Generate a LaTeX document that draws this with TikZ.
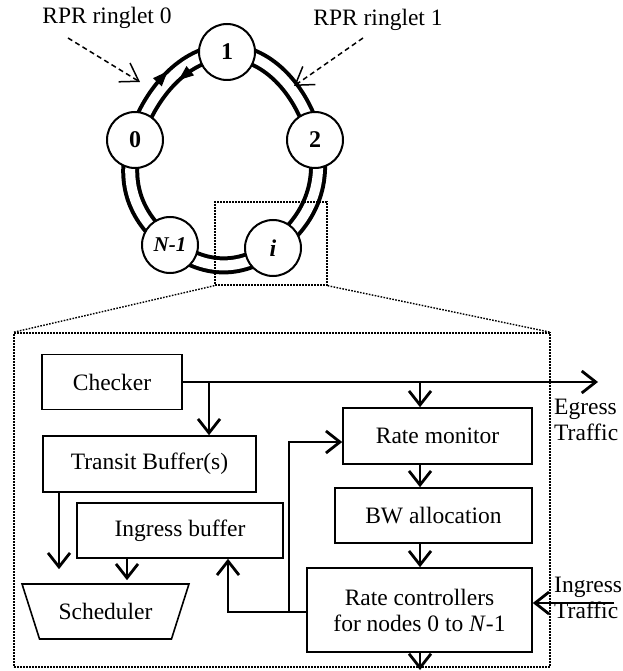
\documentclass[tikz,border=0pt]{standalone}
\usepackage{fontspec}
\setmainfont{Liberation Serif}
\usetikzlibrary{arrows.meta,shapes.geometric,decorations.markings}

\begin{document}
\begin{tikzpicture}[x=1pt,y=-1pt,
  every node/.style={font=\fontsize{23.5}{26}\selectfont},
  block/.style={draw, line width=1.6pt, inner sep=0pt, align=center},
  ringnode/.style={circle, draw, fill=white, line width=2pt, minimum size=56pt,
    inner sep=0pt, font=\fontsize{24}{26}\selectfont\bfseries},
  flow/.style={line width=2.8pt, -{Straight Barb[length=14pt,width=22pt]}},
  pointer/.style={line width=1.5pt, dash pattern=on 5pt off 3.5pt,
    -{Straight Barb[length=17pt,width=22pt,line width=1.5pt]}},
  zoomframe/.style={draw, line width=1.4pt, dash pattern=on 1.6pt off 1.4pt, inner sep=0pt},
  zoomline/.style={line width=1.4pt, dash pattern=on 1.6pt off 1.4pt},
  ringhead/.style={fill=black},
]
\useasboundingbox (0,0) rectangle (622,671);

% --- the RPR double ring (the closed curve starts at its second point, node 0) ---
\draw[line width=4pt, double=white, double distance=10pt,
  postaction={decorate},
  decoration={markings,
    mark=at position 68pt with {\fill[ringhead] (7pt,7pt) -- (-8pt,13pt) -- (-8pt,1pt) -- cycle;},
    mark=at position 84pt with {\fill[ringhead] (-7pt,-7pt) -- (8pt,-1pt) -- (8pt,-13pt) -- cycle;}}]
  plot[smooth cycle, tension=0.85] coordinates {(170,245) (135,140) (227,52) (315,140) (273,248)};

\node[ringnode] (n0) at (135,140) {0};
\node[ringnode] (n1) at (227,52) {1};
\node[ringnode] (n2) at (315,140) {2};
\node[ringnode] (ni) at (273,248) {\itshape i};
\node[ringnode] (nN) at (170,245) {\fontsize{21}{24}\selectfont\itshape N-1};

% --- ringlet labels ---
\node (lab0) at (107,18) {RPR ringlet 0};
\node (lab1) at (378,20) {RPR ringlet 1};
\coordinate (s0) at (68,38);
\coordinate (t0) at (140,82);
\coordinate (s1) at (363,38);
\coordinate (t1) at (294,86);
\draw[pointer] (s0) -- (t0);
\draw[pointer] (s1) -- (t1);

% --- zoom frames ---
\node[zoomframe, minimum width=112pt, minimum height=83pt] (zb) at (271,243.5) {};
\node[zoomframe, minimum width=536pt, minimum height=334pt] (detail) at (282,500) {};
\draw[zoomline] (zb.south west) -- (detail.north west);
\draw[zoomline] (zb.south east) -- (detail.north east);

% --- node internals ---
\node[block, minimum width=140pt, minimum height=55pt] (chk) at (112,382) {Checker};
\node[block, minimum width=213pt, minimum height=56pt] (tb) at (149.5,464) {Transit Buffer(s)};
\node[block, minimum width=206pt, minimum height=55pt] (ib) at (180,530.5) {Ingress buffer};
\node[draw, line width=1.6pt, trapezium, shape border rotate=180, trapezium stretches=true,
  trapezium angle=53, minimum width=167pt, minimum height=55pt, inner sep=0pt] (sch) at (105.5,611.5) {Scheduler};
\node[block, minimum width=189pt, minimum height=56pt] (rm) at (437.5,436) {Rate monitor};
\node[block, minimum width=197pt, minimum height=55pt] (bw) at (433.5,515.5) {BW allocation};
\node[block, minimum width=225pt, minimum height=84pt] (rc) at (419.5,610) {Rate controllers\\for nodes 0 to \textit{N}-1};

\node[align=left, anchor=west, inner sep=0pt] (egl) at (554,420) {Egress\\Traffic};
\node[align=left, anchor=west, inner sep=0pt] (ingl) at (554,597.5) {Ingress\\Traffic};

% --- connectors ---
\coordinate (egr) at (598,382);
\coordinate (j1) at (209,382);
\coordinate (j2) at (420,382);
\coordinate (outp) at (420,670);
\coordinate (inp) at (614,603);
\coordinate (fbj) at (289,612);
\coordinate (fbk) at (228,612);
\coordinate (rmj) at (289,442);

\draw[flow] (chk.east |- egr) -- (egr);
\draw[flow] (j1) -- (j1 |- tb.north);
\draw[flow] (j2) -- (j2 |- rm.north);
\draw[flow] (j2 |- rm.south) -- (j2 |- bw.north);
\draw[flow] (j2 |- bw.south) -- (j2 |- rc.north);
\draw[flow] (j2 |- rc.south) -- (outp);
\draw[flow] (inp) -- (rc.east |- inp);
\draw[flow, shorten >=14pt] (tb.south -| 59,0) -- (sch.north -| 59,0);
\draw[flow, shorten >=3pt] (ib.south -| 127,0) -- (sch.north -| 127,0);
\draw[flow] (rc.west |- fbj) -- (fbk) -- (fbk |- ib.south);
\draw[flow] (fbj) -- (rmj) -- (rm.west |- rmj);
\end{tikzpicture}
\end{document}
